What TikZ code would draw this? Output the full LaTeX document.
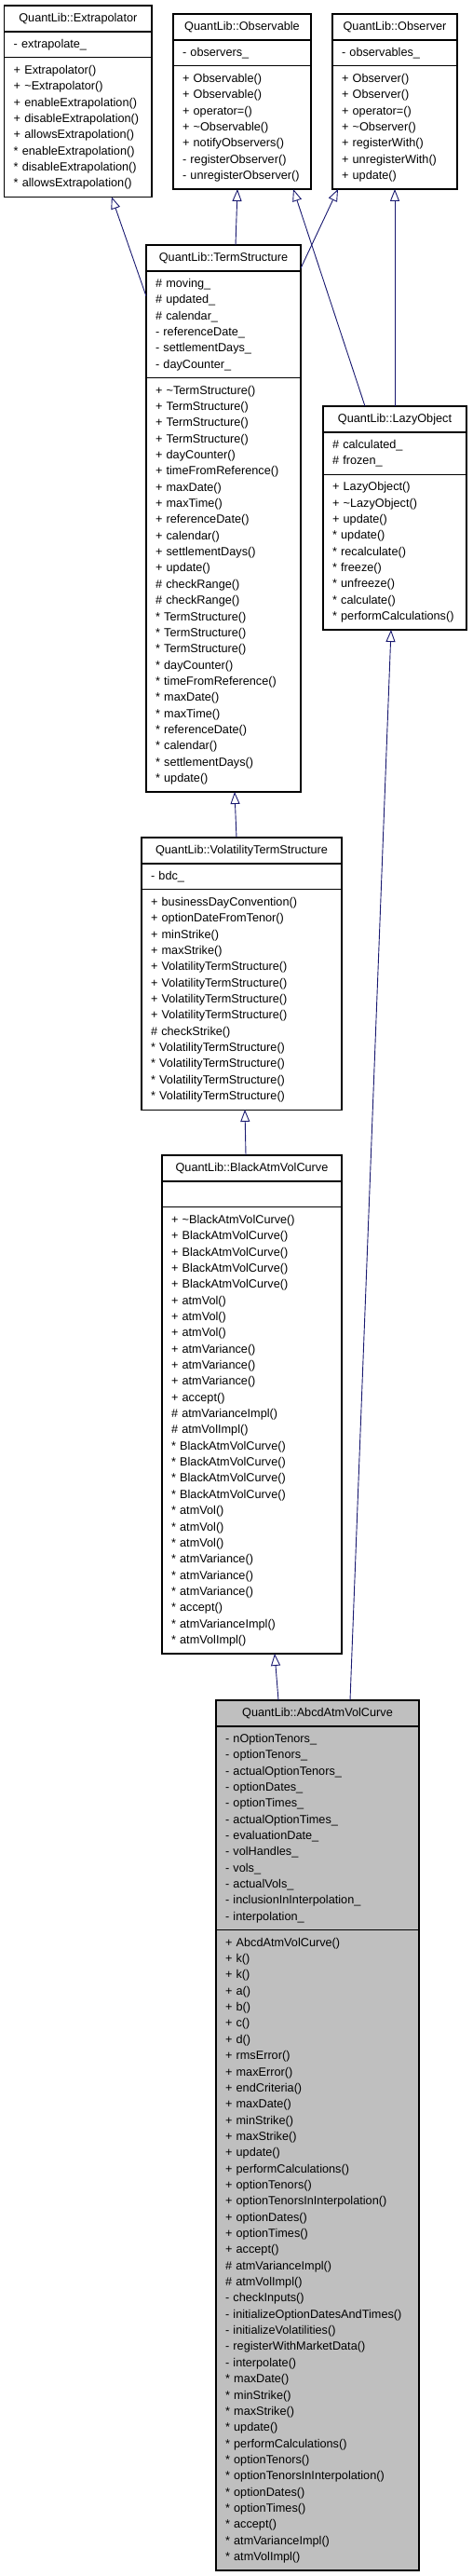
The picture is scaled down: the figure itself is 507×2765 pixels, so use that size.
\documentclass[tikz,border=0pt]{standalone}
\usepackage{fontspec}
\setmainfont{Liberation Sans}
\usetikzlibrary{positioning,arrows.meta}
\definecolor{edgeblue}{RGB}{25,25,112}
\definecolor{abcdgray}{RGB}{191,191,191}

\begin{document}
\begin{tikzpicture}[
  x=1pt, y=-1pt,
  clsbox/.style={draw=black, line width=1.1pt, inner xsep=10pt, inner ysep=5.3pt,
    outer sep=0pt, text width=#1, font=\fontsize{12.7}{17.35}\selectfont,
    execute at begin node=\strut, execute at end node=\strut},
  clstitle/.style={clsbox=#1, align=center, anchor=north},
  clsbody/.style 2 args={clsbox=#1, align=left, below=0pt of #2},
  inherit/.style={draw=edgeblue, line width=0.9pt, -{Triangle[open, length=13pt, width=10pt]}}
]
\useasboundingbox (0,0) rectangle (507,2765);

% base classes
\node[clstitle=138.3pt] (extra) at (83.85,6) {QuantLib::Extrapolator};
\node[clsbody={138.3pt}{extra}] (extra-a) {- extrapolate\_};
\node[clsbody={138.3pt}{extra-a}] (extra-m) {+ Extrapolator()\\
  + \textasciitilde Extrapolator()\\
  + enableExtrapolation()\\
  + disableExtrapolation()\\
  + allowsExtrapolation()\\
  {*} enableExtrapolation()\\
  {*} disableExtrapolation()\\
  {*} allowsExtrapolation()};

\node[clstitle=128pt] (obs) at (260,15) {QuantLib::Observable};
\node[clsbody={128pt}{obs}] (obs-a) {- observers\_};
\node[clsbody={128pt}{obs-a}] (obs-m) {+ Observable()\\
  + Observable()\\
  + operator=()\\
  + \textasciitilde Observable()\\
  + notifyObservers()\\
  - registerObserver()\\
  - unregisterObserver()};

\node[clstitle=114pt] (obsr) at (424,15) {QuantLib::Observer};
\node[clsbody={114pt}{obsr}] (obsr-a) {- observables\_};
\node[clsbody={114pt}{obsr-a}] (obsr-m) {+ Observer()\\
  + Observer()\\
  + operator=()\\
  + \textasciitilde Observer()\\
  + registerWith()\\
  + unregisterWith()\\
  + update()};

% term structure
\node[clstitle=146pt] (ts) at (240,263) {QuantLib::TermStructure};
\node[clsbody={146pt}{ts}] (ts-a) {\# moving\_\\
  \# updated\_\\
  \# calendar\_\\
  - referenceDate\_\\
  - settlementDays\_\\
  - dayCounter\_};
\node[clsbody={146pt}{ts-a}] (ts-m) {+ \textasciitilde TermStructure()\\
  + TermStructure()\\
  + TermStructure()\\
  + TermStructure()\\
  + dayCounter()\\
  + timeFromReference()\\
  + maxDate()\\
  + maxTime()\\
  + referenceDate()\\
  + calendar()\\
  + settlementDays()\\
  + update()\\
  \# checkRange()\\
  \# checkRange()\\
  {*} TermStructure()\\
  {*} TermStructure()\\
  {*} TermStructure()\\
  {*} dayCounter()\\
  {*} timeFromReference()\\
  {*} maxDate()\\
  {*} maxTime()\\
  {*} referenceDate()\\
  {*} calendar()\\
  {*} settlementDays()\\
  {*} update()};

\node[clstitle=134pt] (lazy) at (424,436) {QuantLib::LazyObject};
\node[clsbody={134pt}{lazy}] (lazy-a) {\# calculated\_\\
  \# frozen\_};
\node[clsbody={134pt}{lazy-a}] (lazy-m) {+ LazyObject()\\
  + \textasciitilde LazyObject()\\
  + update()\\
  {*} update()\\
  {*} recalculate()\\
  {*} freeze()\\
  {*} unfreeze()\\
  {*} calculate()\\
  {*} performCalculations()};

\node[clstitle=195pt] (vts) at (259.5,899) {QuantLib::VolatilityTermStructure};
\node[clsbody={195pt}{vts}] (vts-a) {- bdc\_};
\node[clsbody={195pt}{vts-a}] (vts-m) {+ businessDayConvention()\\
  + optionDateFromTenor()\\
  + minStrike()\\
  + maxStrike()\\
  + VolatilityTermStructure()\\
  + VolatilityTermStructure()\\
  + VolatilityTermStructure()\\
  + VolatilityTermStructure()\\
  \# checkStrike()\\
  {*} VolatilityTermStructure()\\
  {*} VolatilityTermStructure()\\
  {*} VolatilityTermStructure()\\
  {*} VolatilityTermStructure()};

\node[clstitle=173pt] (bavc) at (270.5,1240) {QuantLib::BlackAtmVolCurve};
\node[clsbody={173pt}{bavc}] (bavc-a) {};
\node[clsbody={173pt}{bavc-a}] (bavc-m) {+ \textasciitilde BlackAtmVolCurve()\\
  + BlackAtmVolCurve()\\
  + BlackAtmVolCurve()\\
  + BlackAtmVolCurve()\\
  + BlackAtmVolCurve()\\
  + atmVol()\\
  + atmVol()\\
  + atmVol()\\
  + atmVariance()\\
  + atmVariance()\\
  + atmVariance()\\
  + accept()\\
  \# atmVarianceImpl()\\
  \# atmVolImpl()\\
  {*} BlackAtmVolCurve()\\
  {*} BlackAtmVolCurve()\\
  {*} BlackAtmVolCurve()\\
  {*} BlackAtmVolCurve()\\
  {*} atmVol()\\
  {*} atmVol()\\
  {*} atmVol()\\
  {*} atmVariance()\\
  {*} atmVariance()\\
  {*} atmVariance()\\
  {*} accept()\\
  {*} atmVarianceImpl()\\
  {*} atmVolImpl()};

% the documented class
\node[clstitle=198pt, fill=abcdgray] (abcd) at (341,1825) {QuantLib::AbcdAtmVolCurve};
\node[clsbody={198pt}{abcd}, fill=abcdgray] (abcd-a) {- nOptionTenors\_\\
  - optionTenors\_\\
  - actualOptionTenors\_\\
  - optionDates\_\\
  - optionTimes\_\\
  - actualOptionTimes\_\\
  - evaluationDate\_\\
  - volHandles\_\\
  - vols\_\\
  - actualVols\_\\
  - inclusionInInterpolation\_\\
  - interpolation\_};
\node[clsbody={198pt}{abcd-a}, fill=abcdgray] (abcd-m) {+ AbcdAtmVolCurve()\\
  + k()\\
  + k()\\
  + a()\\
  + b()\\
  + c()\\
  + d()\\
  + rmsError()\\
  + maxError()\\
  + endCriteria()\\
  + maxDate()\\
  + minStrike()\\
  + maxStrike()\\
  + update()\\
  + performCalculations()\\
  + optionTenors()\\
  + optionTenorsInInterpolation()\\
  + optionDates()\\
  + optionTimes()\\
  + accept()\\
  \# atmVarianceImpl()\\
  \# atmVolImpl()\\
  - checkInputs()\\
  - initializeOptionDatesAndTimes()\\
  - initializeVolatilities()\\
  - registerWithMarketData()\\
  - interpolate()\\
  {*} maxDate()\\
  {*} minStrike()\\
  {*} maxStrike()\\
  {*} update()\\
  {*} performCalculations()\\
  {*} optionTenors()\\
  {*} optionTenorsInInterpolation()\\
  {*} optionDates()\\
  {*} optionTimes()\\
  {*} accept()\\
  {*} atmVarianceImpl()\\
  {*} atmVolImpl()};

% inheritance
\draw[inherit] ([yshift=-27pt]ts-a.north west) -- ([xshift=36pt]extra-m.south);
\draw[inherit] ([xshift=13pt]ts.north) -- ([xshift=-5pt]obs-m.south);
\draw[inherit] ([yshift=3pt]ts.south east) -- ([xshift=-61pt]obsr-m.south);
\draw[inherit] ([xshift=-32pt]lazy.north) -- ([xshift=55pt]obs-m.south);
\draw[inherit] (lazy.north) -- (obsr-m.south);
\draw[inherit] ([xshift=-5.5pt]vts.north) -- ([xshift=12pt]ts-m.south);
\draw[inherit] ([xshift=-6.5pt]bavc.north) -- ([xshift=3.5pt]vts-m.south);
\draw[inherit] ([xshift=-42pt]abcd.north) -- ([xshift=24.5pt]bavc-m.south);
\draw[inherit] ([xshift=35pt]abcd.north) -- ([xshift=-4pt]lazy-m.south);
\end{tikzpicture}
\end{document}
